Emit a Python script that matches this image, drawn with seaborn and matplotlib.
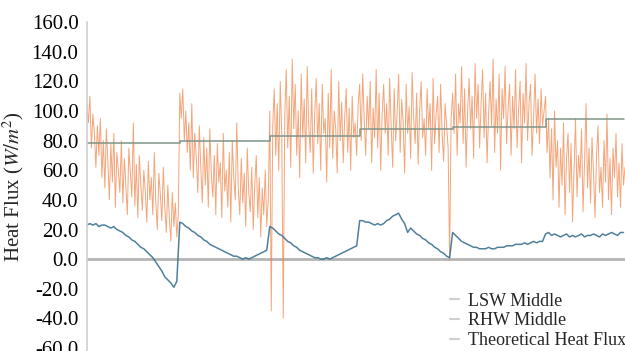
import numpy as np
import pandas as pd
import matplotlib
matplotlib.use("Agg")
import matplotlib.pyplot as plt
import matplotlib.text as mtext
from matplotlib.lines import Line2D
import seaborn as sns

# ---------------- data ----------------
orange_step = 1.5
blue_step = 3

orange_vals = [
    # segment 1
    105, 92, 110, 75, 98, 85, 62, 90, 70, 95, 55, 80, 48, 88, 66, 40, 78, 52, 85, 35,
    72, 60, 45, 80, 38, 68, 50, 30, 75, 58, 42, 92, 36, 64, 28, 70, 50, 33, 60, 45,
    25, 66, 40, 55, 30, 72, 38, 20, 58, 44, 26, 62, 35, 18, 50, 28, 12, 45, 22, 38, 15, 30,
    # segment 2
    112, 95, 115, 80, 100, 72, 92, 60, 105, 55, 85, 68, 45, 90, 62, 38, 82, 50, 75, 35,
    88, 58, 42, 70, 30, 78, 52, 65, 28, 85, 46, 60, 35, 72, 25, 80, 55, 40, 92, 48,
    30, 68, 38, 58, 22, 75, 45, 32, 62, 20, 50, 70, 28, 55, 15, 48, 30, 60, 22, 40,
    # segment 3
    100, -35, 90, 115, 70, 105, 60, 120, 85, -40, 95, 128, 75, 110, 62, 135, 88, 118, 70, 100,
    55, 125, 82, 108, 65, 130, 90, 72, 115, 58, 98, 122, 78, 105, 60, 118, 85, 95, 52, 112,
    75, 128, 68, 100, 88, 58, 120, 80, 106, 65, 95, 115, 72, 102, 60, 110, 82, 92, 70, 105,
    # segment 4
    118, 80, 125, 95, 70, 110, 88, 120, 65, 102, 82, 128, 75, 112, 60, 98, 118, 85, 105, 70,
    122, 90, 62, 115, 80, 100, 125, 72, 108, 92, 58, 118, 85, 103, 68, 126, 95, 78, 112, 64,
    100, 120, 82, 95, 70, 115, 88, 105, 60, 122, 78, 98, 110, 72, 118, 85, 66, 105, 90, 75, 0, 95,
    # segment 5
    112, 85, 125, 70, 105, 92, 130, 78, 115, 62, 100, 122, 88, 110, 68, 132, 95, 118, 75, 105,
    128, 82, 112, 65, 98, 120, 90, 135, 72, 108, 85, 125, 60, 115, 95, 130, 78, 102, 118, 70,
    110, 88, 128, 75, 100, 120, 65, 112, 92, 132, 80, 105, 118, 70, 95, 125, 85, 108, 78, 115, 90, 100,
    # segment 6
    110, 72, 95, 55, 88, 40, 100, 62, 80, 35, 75, 50, 92, 30, 68, 85, 45, 78, 25, 60,
    95, 42, 70, 55, 88, 32, 65, 105, 48, 75, 38, 82, 58, 28, 70, 90, 45, 62, 35, 80,
    52, 98, 40, 68, 30, 75, 55, 85, 42, 65, 35, 78, 50, 62,
]

blue_vals = [
    # segment 1
    23, 24, 23, 24, 22, 23, 23, 22, 21, 22, 20, 19, 18, 16, 15, 13, 12, 10, 8, 7,
    5, 3, 1, -2, -5, -8, -12, -14, -16, -19, -15,
    # segment 2
    25, 24, 22, 21, 19, 18, 16, 15, 13, 12, 10, 9, 8, 7, 6, 5, 4, 3, 2, 2,
    1, 0, 1, 0, 1, 2, 3, 4, 5, 6,
    # segment 3
    22, 21, 19, 17, 16, 14, 12, 11, 9, 8, 6, 5, 4, 3, 2, 1, 1, 0, 0, 1,
    0, 1, 2, 3, 4, 5, 6, 7, 8, 9,
    # segment 4
    26, 26, 25, 25, 24, 23, 24, 23, 24, 26, 27, 29, 30, 31, 27, 24, 18, 21, 19, 17,
    16, 14, 13, 11, 10, 8, 7, 5, 4, 2, 1,
    # segment 5
    18, 16, 14, 12, 11, 10, 9, 8, 8, 7, 7, 7, 8, 7, 7, 8, 8, 8, 9, 9,
    9, 10, 10, 10, 11, 10, 11, 12, 11, 12, 12,
    # segment 6
    17, 18, 16, 17, 16, 15, 16, 17, 15, 16, 15, 16, 17, 15, 16, 16, 17, 16, 15, 17,
    16, 17, 18, 17, 16, 18, 18,
]

# theoretical heat flux: level per test segment and segment start (blue sample index)
theory_levels = [78.4, 79.5, 82.8, 87.6, 89.0, 94.5]
theory_starts = [0, 31, 61, 91, 122, 153]

legend_labels = ["LSW Middle", "RHW Middle", "Theoretical Heat Flux"]
y_ticks = [-60, -40, -20, 0, 20, 40, 60, 80, 100, 120, 140, 160]

# ---------------- build frames ----------------
t_orange = np.arange(len(orange_vals)) * orange_step
t_blue = np.arange(len(blue_vals)) * blue_step
theory = np.empty(len(blue_vals))
bounds = theory_starts + [len(blue_vals)]
for lvl, a, b in zip(theory_levels, bounds[:-1], bounds[1:]):
    theory[a:b] = lvl

df_o = pd.DataFrame({"t": t_orange, "v": orange_vals})
df_b = pd.DataFrame({"t": t_blue, "v": blue_vals, "theory": theory})

# ---------------- plot ----------------
SERIF = "Liberation Serif"
serif_list = [SERIF, "DejaVu Serif"]
sns.set_theme(style="white", font=SERIF,
              rc={"font.sans-serif": serif_list, "font.serif": serif_list,
                  "mathtext.fontset": "stix"})
plt.rcParams["font.family"] = serif_list
plt.rcParams["font.sans-serif"] = serif_list

fig = plt.figure(figsize=(6.25, 3.51), dpi=100)
ax = fig.add_axes([0.139, 0.0, 0.861, 0.937])

sns.lineplot(data=df_o, x="t", y="v", ax=ax, color="#f07f40", lw=0.7, alpha=0.7)
sns.lineplot(data=df_b, x="t", y="v", ax=ax, color="#3d7390", lw=1.1, alpha=0.9)
sns.lineplot(data=df_b, x="t", y="theory", ax=ax, color="#7f9488", lw=1.1,
             drawstyle="steps-post")

ax.axhline(0, color="#b4b4b4", lw=2, zorder=0.5)

ax.set_xlim(0, t_orange[-1])
ax.set_ylim(-62, 160)
ax.set_yticks(y_ticks)
ax.set_yticklabels([f"{v:.1f}" for v in y_ticks])
ax.set_xticks([])
ax.set_xlabel("")
ax.tick_params(axis="y", length=0, pad=6, labelsize=15, labelcolor="black")
ax.set_ylabel(r"Heat Flux ($W/m^2$)", fontsize=15, labelpad=4)

for s in ["top", "right", "bottom"]:
    ax.spines[s].set_visible(False)
ax.spines["left"].set_color("#d0d0d0")
ax.spines["left"].set_linewidth(1.2)

handles = [Line2D([0], [0], color="#cfcfcf", lw=1.5) for _ in legend_labels]
ax.legend(handles, legend_labels, loc="lower right", frameon=False, fontsize=13,
          handlelength=0.5, handletextpad=0.5, labelspacing=0.15,
          borderaxespad=0.0, borderpad=0.1, bbox_to_anchor=(1.005, 0.0))

# force the serif family on every text object
for txt in fig.findobj(mtext.Text):
    txt.set_fontfamily(serif_list)
    txt.set_math_fontfamily("stix")

fig.savefig("out.png", dpi=100)
